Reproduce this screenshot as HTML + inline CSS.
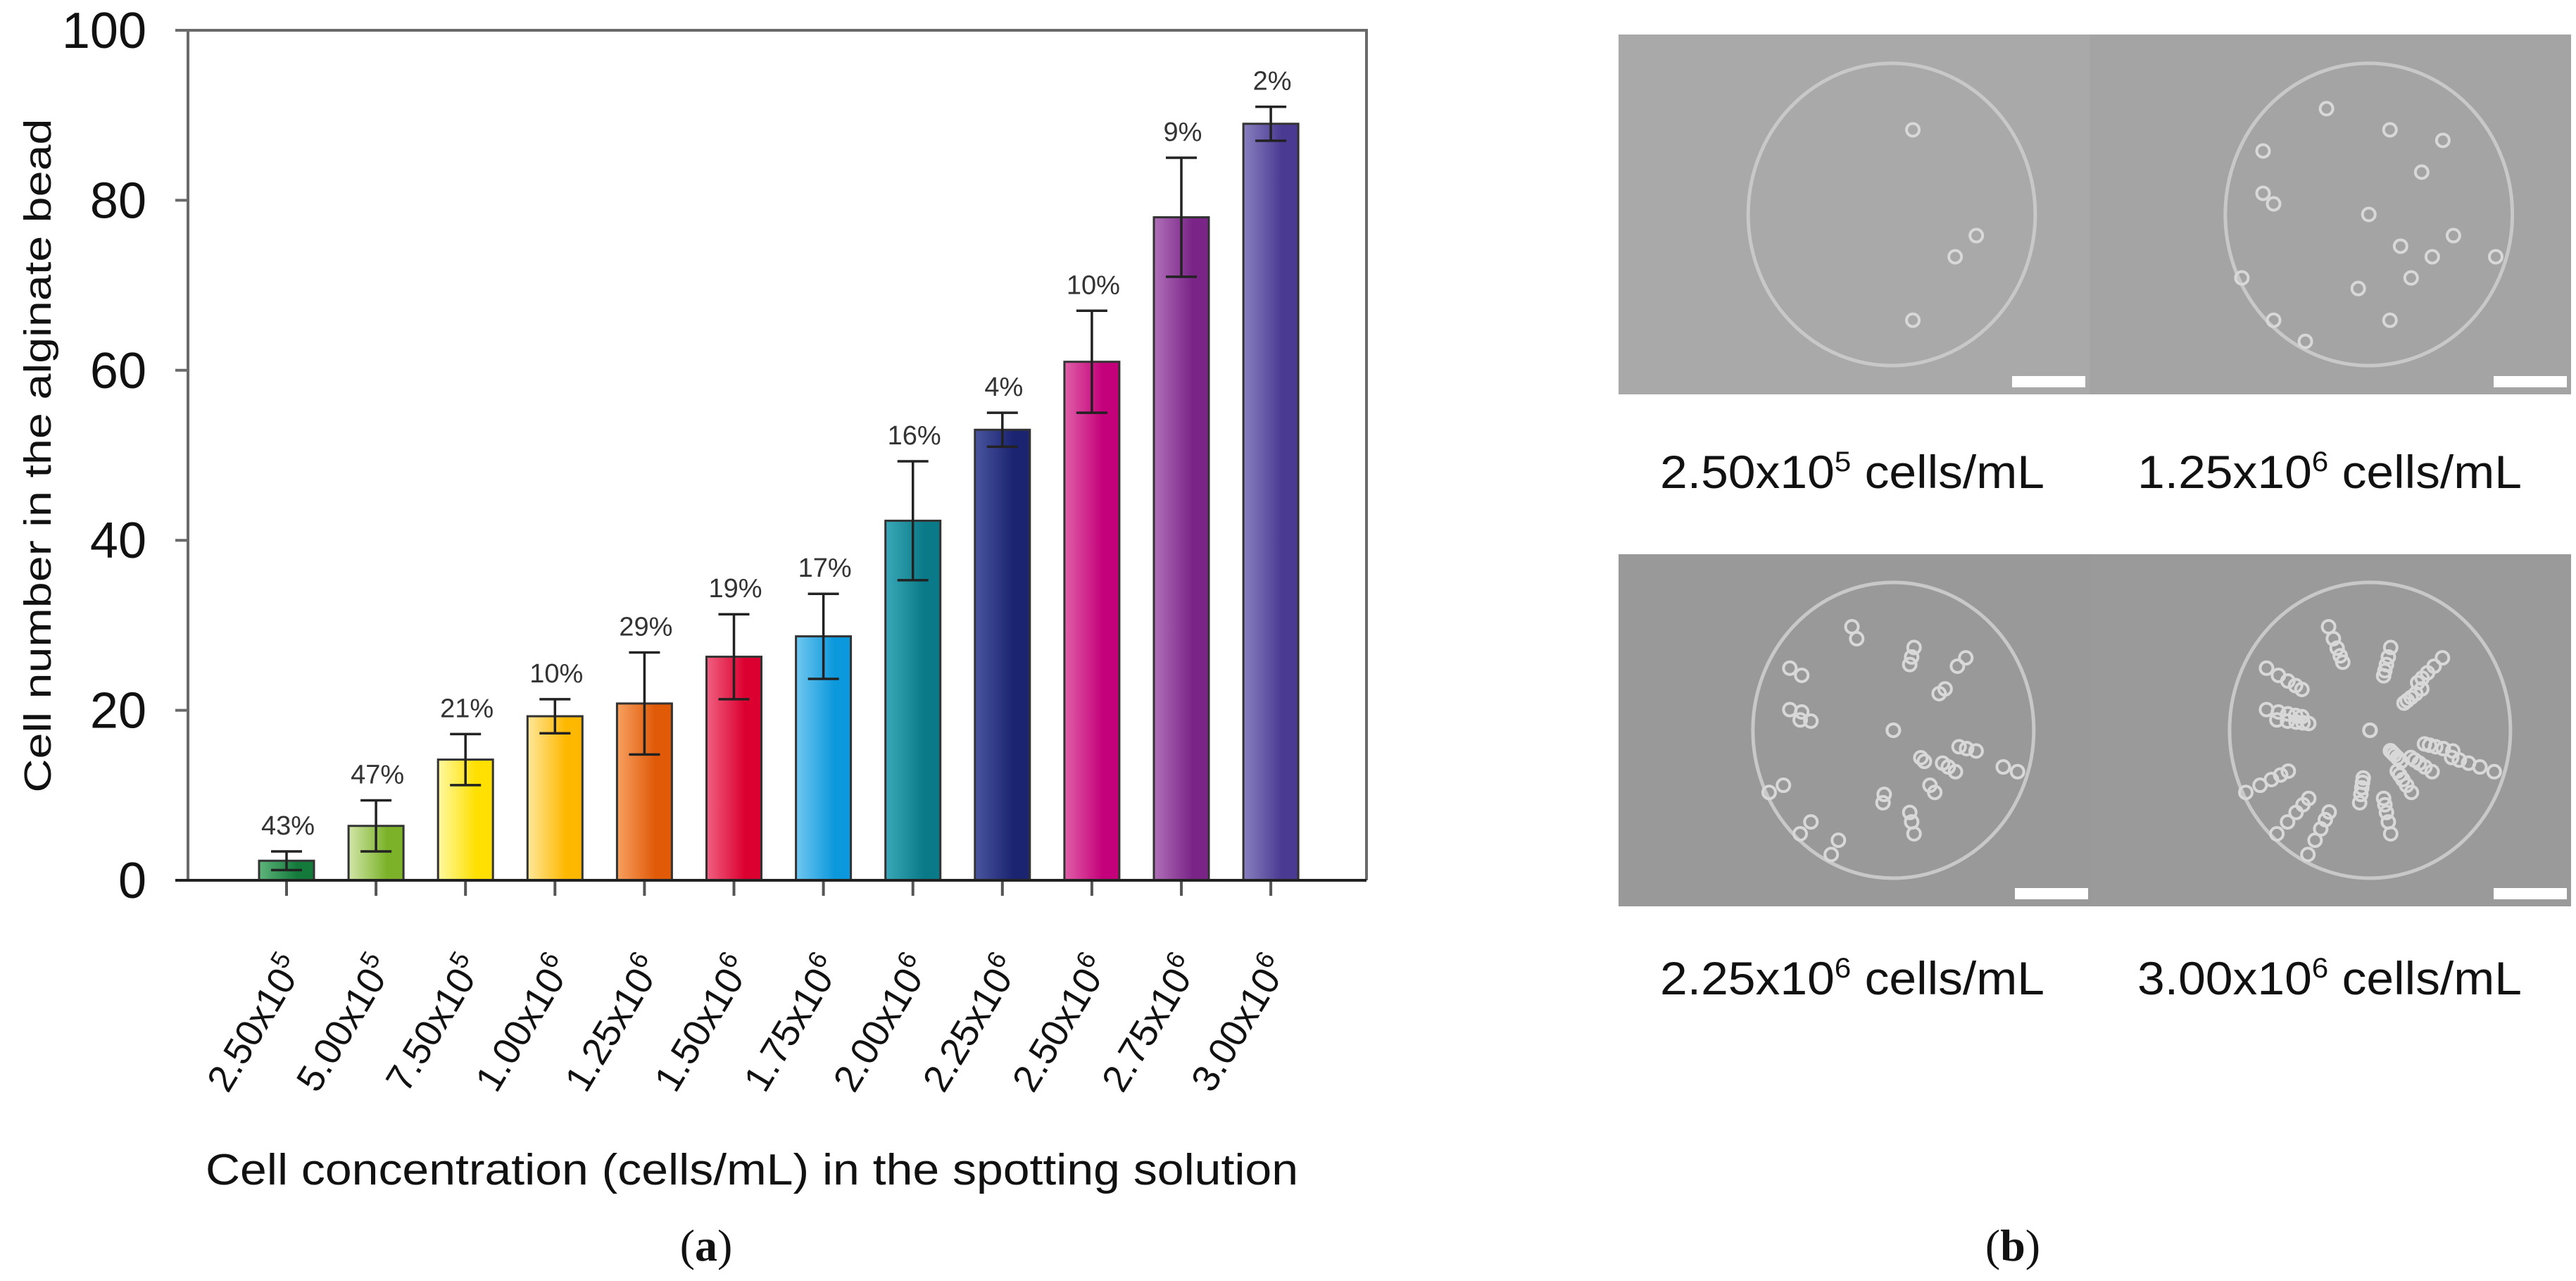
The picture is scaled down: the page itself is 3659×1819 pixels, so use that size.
<!DOCTYPE html>
<html><head><meta charset="utf-8"><style>
html,body{margin:0;padding:0;background:#fff}
svg{display:block}
</style></head><body>
<svg id="root" width="3659" height="1819" viewBox="0 0 3659 1819" xmlns="http://www.w3.org/2000/svg" font-family="Liberation Sans, sans-serif">
<defs id="defs"></defs>
<g id="chart"></g>
<g id="panelb"></g>
</svg>
<script>
const categories = ["2.50x10","5.00x10","7.50x10","1.00x10","1.25x10","1.50x10","1.75x10","2.00x10","2.25x10","2.50x10","2.75x10","3.00x10"];
const exponents = ["5","5","5","6","6","6","6","6","6","6","6","6"];
const values = [2.3, 6.4, 14.2, 19.3, 20.8, 26.3, 28.7, 42.3, 53.0, 61.0, 78.0, 89.0];
const errors = [1.1, 3.0, 3.0, 2.0, 6.0, 5.0, 5.0, 7.0, 2.0, 6.0, 7.0, 2.0];
const cvLabels = ["43%","47%","21%","10%","29%","19%","17%","16%","4%","10%","9%","2%"];
const yTicks = [0, 20, 40, 60, 80, 100];
const barColors = [["#5fb47a","#137a3c"],["#d2e6a8","#7bb22a"],["#fff8a0","#ffe000"],["#ffe79a","#ffb800"],["#f7a060","#e05a08"],["#f06080","#dc0030"],["#70c8f0","#0c98dc"],["#3aa8b8","#0a7a88"],["#4a55a0","#1a2470"],["#e060a8","#c4007a"],["#b070b8","#7a2488"],["#8880c0","#4a3a92"]];

const NS = "http://www.w3.org/2000/svg";
function mk(tag, attrs, parent){const e=document.createElementNS(NS,tag);for(const k in attrs)e.setAttribute(k,attrs[k]);parent.appendChild(e);return e;}
const chart = document.getElementById('chart');
const defs = document.getElementById('defs');
const X0 = 267, X1 = 1941, Y0 = 1250, Ytop = 43;
const firstCenter = 407, pitch = 127.1, barW = 78;
function yScale(v){return Y0 - (v/100)*(Y0-Ytop);}
function xScale(i){return firstCenter + i*pitch;}

const frame = mk('path',{d:`M${X0} ${Y0} L${X0} ${Ytop} L${X1} ${Ytop} L${X1} ${Y0}`,fill:'none',stroke:'#6a6a6a','stroke-width':4},chart);



yTicks.forEach(t=>{
  const y=yScale(t);
  const tk=mk('line',{x1:249,x2:X0,y1:y,y2:y,stroke:'#6a6a6a','stroke-width':4},chart);
  
  
  const lb=mk('text',{x:208,y:y+25,'text-anchor':'end','font-size':72,fill:'#111'},chart);
  lb.textContent=t;
  
  
});

values.forEach((v,i)=>{
  const cx=xScale(i);
  const g=mk('linearGradient',{id:'g'+i,x1:0,x2:1,y1:0,y2:0},defs);
  mk('stop',{offset:'0','stop-color':barColors[i][0]},g);
  mk('stop',{offset:'0.7','stop-color':barColors[i][1]},g);
  mk('stop',{offset:'1','stop-color':barColors[i][1]},g);
  const r=mk('rect',{x:cx-barW/2,y:yScale(v),width:barW,height:Y0-yScale(v),fill:`url(#g${i})`,stroke:'#333','stroke-width':3},chart);
  
  
  const top=yScale(v+errors[i]), bot=yScale(v-errors[i]);
  const eb=mk('path',{d:`M${cx} ${top} L${cx} ${bot} M${cx-22} ${top} L${cx+22} ${top} M${cx-22} ${bot} L${cx+22} ${bot}`,stroke:'#222','stroke-width':3.5,fill:'none'},chart);
  
  
  const pl=mk('text',{x:cx+2,y:top-24,'text-anchor':'middle','font-size':38,fill:'#333'},chart);
  pl.textContent=cvLabels[i];
  
  
  const xt=mk('line',{x1:cx,x2:cx,y1:Y0,y2:Y0+22,stroke:'#555','stroke-width':4},chart);
  
  
  const tl=mk('text',{x:0,y:0,'text-anchor':'end','font-size':54,fill:'#111',transform:`translate(${cx+26},${Y0+122}) rotate(-59)`},chart);
  
  
  tl.appendChild(document.createTextNode(categories[i]));
  const sup=mk('tspan',{dy:-22,'font-size':36},tl);
  sup.textContent=exponents[i];
});
const xa=mk('line',{x1:249,x2:X1,y1:Y0,y2:Y0,stroke:'#222','stroke-width':4},chart);



const yt=mk('text',{x:0,y:0,'text-anchor':'middle','font-size':54,fill:'#111',transform:'translate(72,647) rotate(-90)',textLength:957,lengthAdjust:'spacingAndGlyphs'},chart);
yt.textContent='Cell number in the alginate bead';


const xtt=mk('text',{x:1068,y:1682,'text-anchor':'middle','font-size':62,fill:'#111',textLength:1552,lengthAdjust:'spacingAndGlyphs'},chart);
xtt.textContent='Cell concentration (cells/mL) in the spotting solution';


const pa=mk('text',{x:1003,y:1790,'text-anchor':'middle','font-size':64,fill:'#111','font-family':'Liberation Serif, serif'},chart);
pa.innerHTML='(<tspan font-weight="bold">a</tspan>)';



const pb=document.getElementById('panelb');
const imgs=[
 {x:2299,y:49,w:669,h:511,fill:'#a9a9a9',cells:4,cap:'2.50x10',e:'5'},
 {x:2968,y:49,w:684,h:511,fill:'#a4a4a4',cells:18,cap:'1.25x10',e:'6'},
 {x:2299,y:787,w:673,h:500,fill:'#999999',cells:40,cap:'2.25x10',e:'6'},
 {x:2972,y:787,w:680,h:500,fill:'#9a9a9a',cells:90,cap:'3.00x10',e:'6'}];
const dotOffsets=[[-0.3,0.2],[0.1,-0.4],[0.4,0.1],[-0.1,0.5],[0.2,0.3],[-0.5,-0.1],[0.5,-0.3],[0,0],[-0.2,-0.5],[0.3,0.6],[-0.6,0.3],[0.6,0.2],[-0.35,-0.35],[0.15,0.15],[-0.05,0.35],[0.45,-0.05],[-0.45,0.5],[0.25,-0.2]];
imgs.forEach((m,k)=>{
  const g=mk('g',{},pb);
  
  
  mk('rect',{x:m.x,y:m.y,width:m.w,height:m.h,fill:m.fill},g);
  const cx=m.x+m.w*0.58, cy=m.y+m.h*0.5, r=Math.min(m.w,m.h)*0.42;
  mk('ellipse',{cx:cx,cy:cy,rx:r*0.95,ry:r,fill:'none',stroke:'#c8c8c8','stroke-width':5},g);
  for(let j=0;j<m.cells;j++){
    const o=dotOffsets[j%dotOffsets.length];
    const s=1+Math.floor(j/dotOffsets.length)*0.13;
    const dx=o[0]*r*1.4/s, dy=o[1]*r*1.4/s;
    mk('circle',{cx:cx+dx*((j%3)?1:-1),cy:cy+dy,r:9,fill:'none',stroke:'#d8d8d8','stroke-width':4},g);
  }
  mk('rect',{x:m.x+m.w-110,y:m.y+m.h-26,width:104,height:16,fill:'#fff'},g);
  const ccx = m.x < 2900 ? 2631 : 3309;
  const by = k<2 ? 693 : 1412;
  const t=mk('text',{x:ccx,y:by,'text-anchor':'middle','font-size':66,fill:'#111',textLength:546,lengthAdjust:'spacingAndGlyphs'},pb);
  
  
  t.appendChild(document.createTextNode(m.cap));
  const sp=mk('tspan',{dy:-24,'font-size':40},t); sp.textContent=m.e;
  const rest=mk('tspan',{dy:24},t); rest.textContent=' cells/mL';
});
const pbl=mk('text',{x:2859,y:1790,'text-anchor':'middle','font-size':64,fill:'#111','font-family':'Liberation Serif, serif'},pb);
pbl.innerHTML='(<tspan font-weight="bold">b</tspan>)';


</script>
</body></html>
